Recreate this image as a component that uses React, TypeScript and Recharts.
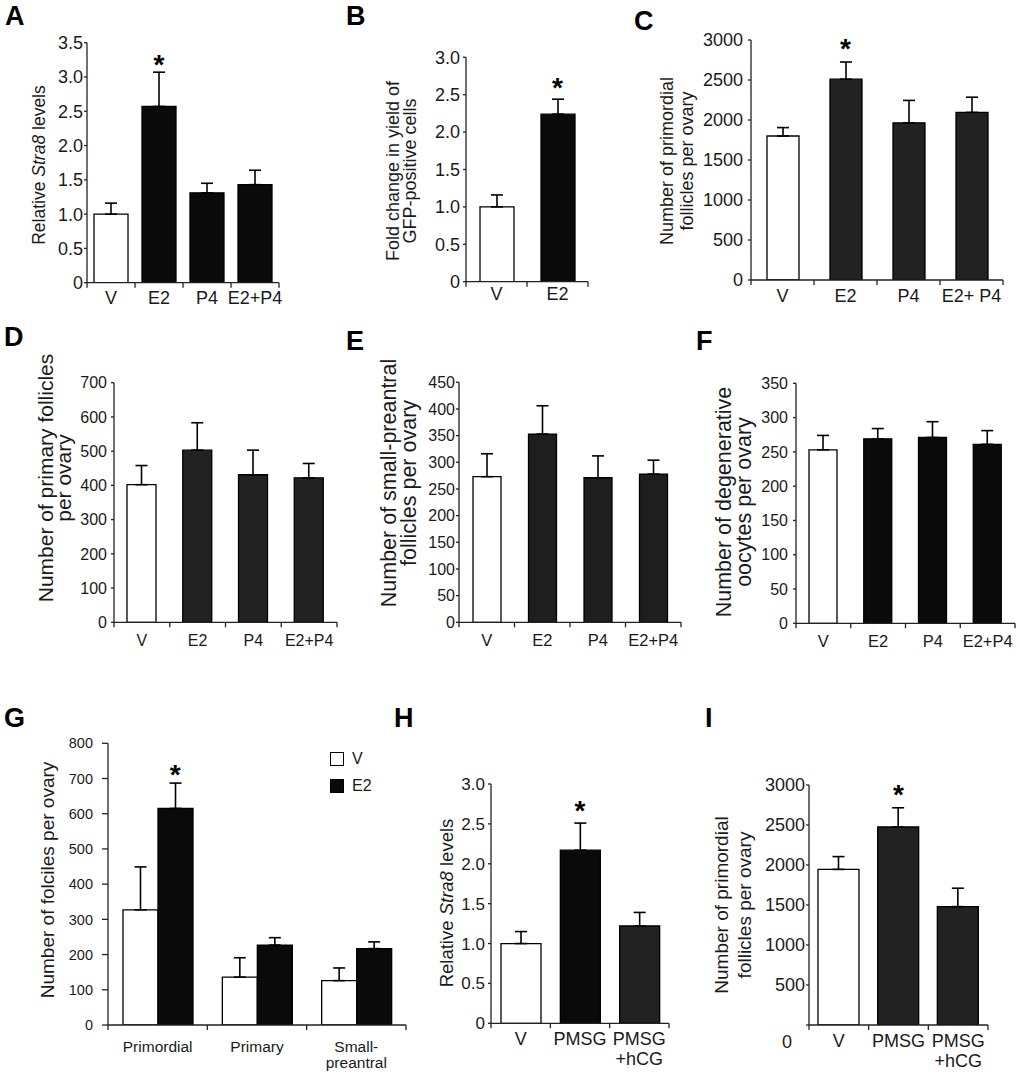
import React from "react";
import { Bar, BarChart, Cell, ErrorBar, Legend, ReferenceDot, XAxis, YAxis } from "recharts";

const FONT = '"Liberation Sans", Arial, Helvetica, sans-serif';
const INK = "#1a1a1a";
const AX = "#222";
const WHITE = "#ffffff";
const BLACK = "#0a0a0a";
const DARK = "#222222";

// A: Stra8 levels
const aCats = ["V", "E2", "P4", "E2+P4"];
const aMean = [1.0, 2.57, 1.31, 1.43];
const aSem = [0.16, 0.5, 0.14, 0.21];
const aTicks = [0, 0.5, 1, 1.5, 2, 2.5, 3, 3.5];

// B: GFP-positive yield
const bCats = ["V", "E2"];
const bMean = [1.0, 2.24];
const bSem = [0.16, 0.2];
const bTicks = [0, 0.5, 1, 1.5, 2, 2.5, 3];

// C: primordial follicles
const cCats = ["V", "E2", "P4", "E2+ P4"];
const cMean = [1800, 2510, 1965, 2095];
const cSem = [105, 215, 280, 190];
const cTicks = [0, 500, 1000, 1500, 2000, 2500, 3000];

// D: primary follicles
const dCats = ["V", "E2", "P4", "E2+P4"];
const dMean = [402, 503, 431, 422];
const dSem = [56, 80, 72, 42];
const dTicks = [0, 100, 200, 300, 400, 500, 600, 700];

// E: small-preantral follicles
const eCats = ["V", "E2", "P4", "E2+P4"];
const eMean = [273, 353, 271, 278];
const eSem = [43, 53, 41, 26];
const eTicks = [0, 50, 100, 150, 200, 250, 300, 350, 400, 450];

// F: degenerative oocytes
const fCats = ["V", "E2", "P4", "E2+P4"];
const fMean = [253, 269, 271, 261];
const fSem = [21, 15, 23, 20];
const fTicks = [0, 50, 100, 150, 200, 250, 300, 350];

// G: follicles by stage, V vs E2
const gCats = ["Primordial", "Primary", "Small-\npreantral"];
const gV = [327, 136, 126];
const gVSem = [122, 55, 36];
const gE2 = [615, 227, 217];
const gE2Sem = [72, 21, 19];
const gTicks = [0, 100, 200, 300, 400, 500, 600, 700, 800];
const gOrder = ["V", "E2"];

// H: Stra8 levels, gonadotropins
const hCats = ["V", "PMSG", "PMSG\n+hCG"];
const hMean = [1.0, 2.17, 1.22];
const hSem = [0.15, 0.34, 0.17];
const hTicks = [0, 0.5, 1, 1.5, 2, 2.5, 3];

// I: primordial follicles, gonadotropins
const iCats = ["V", "PMSG", "PMSG\n+hCG"];
const iMean = [1945, 2475, 1480];
const iSem = [160, 240, 230];
const iTicks = [0, 500, 1000, 1500, 2000, 2500, 3000];

const dec = (v: number) => (v === 0 ? "0" : v.toFixed(1));
const int = (v: number) => String(v);

const Y_W = 60;
const X_H = 60;

type Series = { name: string; mean: number[]; sem: number[]; fills: string[] };
type Cfg = {
  axisX: number;
  yTop: number;
  yZero: number;
  xEnd: number;
  cats: string[];
  series: Series[];
  ticks: number[];
  fmt: (v: number) => string;
  tickFont: number;
  yTickSize: number;
  yTickMargin: number;
  catFont: number;
  catOffset: number;
  lineGap: number;
  barSize: number;
  stars: { cat: string; s: number }[];
  starGap: number;
  shiftZero?: boolean;
  legend?: boolean;
};

const panels: Cfg[] = [
  {
    axisX: 87, yTop: 42.7, yZero: 282.7, xEnd: 279, cats: aCats,
    series: [{ name: "A", mean: aMean, sem: aSem, fills: [WHITE, BLACK, BLACK, BLACK] }],
    ticks: aTicks, fmt: dec, tickFont: 18, yTickSize: 3, yTickMargin: 1,
    catFont: 18, catOffset: 21, lineGap: 18, barSize: 34, stars: [{ cat: "E2", s: 0 }], starGap: 13,
  },
  {
    axisX: 466, yTop: 57.3, yZero: 281.7, xEnd: 588, cats: bCats,
    series: [{ name: "B", mean: bMean, sem: bSem, fills: [WHITE, BLACK] }],
    ticks: bTicks, fmt: dec, tickFont: 18, yTickSize: 3, yTickMargin: 3,
    catFont: 18, catOffset: 18.5, lineGap: 18, barSize: 34, stars: [{ cat: "E2", s: 0 }], starGap: 17,
  },
  {
    axisX: 751, yTop: 40, yZero: 280, xEnd: 1003, cats: cCats,
    series: [{ name: "C", mean: cMean, sem: cSem, fills: [WHITE, DARK, DARK, DARK] }],
    ticks: cTicks, fmt: int, tickFont: 18, yTickSize: 3, yTickMargin: 5,
    catFont: 18, catOffset: 21.5, lineGap: 18, barSize: 32, stars: [{ cat: "E2", s: 0 }], starGap: 19,
  },
  {
    axisX: 114, yTop: 382.7, yZero: 622.3, xEnd: 337, cats: dCats,
    series: [{ name: "D", mean: dMean, sem: dSem, fills: [WHITE, DARK, DARK, DARK] }],
    ticks: dTicks, fmt: int, tickFont: 16, yTickSize: 3, yTickMargin: 4,
    catFont: 16, catOffset: 24, lineGap: 18, barSize: 29, stars: [], starGap: 0,
  },
  {
    axisX: 459, yTop: 382.3, yZero: 622.3, xEnd: 681, cats: eCats,
    series: [{ name: "E", mean: eMean, sem: eSem, fills: [WHITE, "#1e1e1e", "#1e1e1e", "#1e1e1e"] }],
    ticks: eTicks, fmt: int, tickFont: 16, yTickSize: 3, yTickMargin: 1,
    catFont: 16.5, catOffset: 24, lineGap: 18, barSize: 28, stars: [], starGap: 0,
  },
  {
    axisX: 796, yTop: 383.3, yZero: 623.3, xEnd: 1015, cats: fCats,
    series: [{ name: "F", mean: fMean, sem: fSem, fills: [WHITE, BLACK, BLACK, BLACK] }],
    ticks: fTicks, fmt: int, tickFont: 16, yTickSize: 3, yTickMargin: 5,
    catFont: 16.5, catOffset: 23.5, lineGap: 18, barSize: 28, stars: [], starGap: 0,
  },
  {
    axisX: 108, yTop: 743.3, yZero: 1025, xEnd: 406, cats: gCats,
    series: [
      { name: "V", mean: gV, sem: gVSem, fills: [WHITE, WHITE, WHITE] },
      { name: "E2", mean: gE2, sem: gE2Sem, fills: [BLACK, BLACK, BLACK] },
    ],
    ticks: gTicks, fmt: int, tickFont: 14.5, yTickSize: 6, yTickMargin: 9,
    catFont: 15.5, catOffset: 26.5, lineGap: 16.5, barSize: 35, stars: [{ cat: "Primordial", s: 1 }], starGap: 14,
    legend: true,
  },
  {
    axisX: 491, yTop: 784, yZero: 1023.3, xEnd: 669, cats: hCats,
    series: [{ name: "H", mean: hMean, sem: hSem, fills: [WHITE, BLACK, DARK] }],
    ticks: hTicks, fmt: dec, tickFont: 17, yTickSize: 3, yTickMargin: 3,
    catFont: 18, catOffset: 21.7, lineGap: 20, barSize: 40, stars: [{ cat: "PMSG", s: 0 }], starGap: 18,
  },
  {
    axisX: 809, yTop: 785, yZero: 1025, xEnd: 988, cats: iCats,
    series: [{ name: "I", mean: iMean, sem: iSem, fills: [WHITE, DARK, DARK] }],
    ticks: iTicks, fmt: int, tickFont: 18, yTickSize: 3, yTickMargin: 1,
    catFont: 18, catOffset: 22, lineGap: 20, barSize: 41, stars: [{ cat: "PMSG", s: 0 }], starGap: 19,
    shiftZero: true,
  },
];

// category label plus the tick marks at the category boundaries
const CatTick = (props: any) => {
  const { x, y, payload, index, fontSize, offset, lineGap, band, last } = props;
  const lines = String(payload.value).split("\n");
  return (
    <g>
      <line x1={x - band / 2} x2={x - band / 2} y1={y} y2={y + 5} stroke={AX} strokeWidth={1.3} />
      {index === last && (
        <line x1={x + band / 2} x2={x + band / 2} y1={y} y2={y + 5} stroke={AX} strokeWidth={1.3} />
      )}
      <text textAnchor="middle" fontSize={fontSize} fontFamily={FONT} fill={INK}>
        {lines.map((l, i) => (
          <tspan key={i} x={x} y={y + offset + i * lineGap}>
            {l}
          </tspan>
        ))}
      </text>
    </g>
  );
};

const YTick = (props: any) => {
  const { x, y, payload, fontSize, fmt, shiftZero } = props;
  const s = shiftZero && payload.value === 0;
  return (
    <text
      x={x + (s ? -13 : 0)}
      y={y + (s ? 17 : 0)}
      dy="0.355em"
      textAnchor="end"
      fontSize={fontSize}
      fontFamily={FONT}
      fill={INK}
    >
      {fmt(payload.value)}
    </text>
  );
};

const GLegend = (props: any) => {
  const fills: Record<string, string> = { V: WHITE, E2: BLACK };
  const items = [...(props.payload || [])].sort(
    (a: any, b: any) => gOrder.indexOf(a.value) - gOrder.indexOf(b.value),
  );
  return (
    <div style={{ fontFamily: FONT, fontSize: 16, color: INK }}>
      {items.map((e: any) => (
        <div key={e.value} style={{ display: "flex", alignItems: "center", height: 27 }}>
          <span
            style={{
              display: "inline-block",
              boxSizing: "border-box",
              width: 14,
              height: 14,
              background: fills[e.value] ?? e.color,
              border: "1.3px solid #000",
              marginRight: 8,
            }}
          />
          {e.value}
        </div>
      ))}
    </div>
  );
};

function Panel({ cfg }: { cfg: Cfg }) {
  const left = cfg.axisX - Y_W;
  const top = Math.floor(cfg.yTop - 14);
  const width = Math.ceil(cfg.xEnd - left + 14);
  const height = Math.ceil(cfg.yZero - top + X_H + 10);
  const margin = {
    top: cfg.yTop - top,
    right: width - (cfg.xEnd - left),
    bottom: height - (cfg.yZero - top) - X_H,
    left: 0,
  };
  const rows = cfg.cats.map((name, i) => {
    const r: any = { name };
    cfg.series.forEach((s, k) => {
      r[`m${k}`] = s.mean[i];
      r[`e${k}`] = [0, s.sem[i]];
    });
    return r;
  });
  const n = cfg.cats.length;
  const band = (cfg.xEnd - cfg.axisX) / n;
  const max = cfg.ticks[cfg.ticks.length - 1];

  return (
    <div style={{ position: "absolute", left, top }}>
      <BarChart width={width} height={height} data={rows} margin={margin} barGap={0}>
        <XAxis
          dataKey="name"
          type="category"
          height={X_H}
          axisLine={{ stroke: AX, strokeWidth: 1.3 }}
          tickLine={false}
          tickSize={0}
          tickMargin={0}
          interval={0}
          tick={
            <CatTick
              fontSize={cfg.catFont}
              offset={cfg.catOffset}
              lineGap={cfg.lineGap}
              band={band}
              last={n - 1}
            />
          }
        />
        <YAxis
          type="number"
          width={Y_W}
          domain={[0, max]}
          ticks={cfg.ticks}
          interval={0}
          allowDataOverflow
          tickSize={cfg.yTickSize}
          tickMargin={cfg.yTickMargin}
          axisLine={{ stroke: AX, strokeWidth: 1.3 }}
          tickLine={{ stroke: AX, strokeWidth: 1.3 }}
          tick={<YTick fontSize={cfg.tickFont} fmt={cfg.fmt} shiftZero={cfg.shiftZero} />}
        />
        {cfg.series.map((s, k) => (
          <Bar
            key={s.name}
            dataKey={`m${k}`}
            name={s.name}
            barSize={cfg.barSize}
            fill={s.fills[s.fills.length - 1]}
            stroke="#000"
            strokeWidth={1.3}
            isAnimationActive={false}
          >
            {rows.map((_, i) => (
              <Cell key={i} fill={s.fills[i]} />
            ))}
            <ErrorBar
              dataKey={`e${k}`}
              direction="y"
              width={6}
              stroke="#000"
              strokeWidth={1.6}
              isAnimationActive={false}
            />
          </Bar>
        ))}
        {cfg.stars.map((st) => {
          const i = cfg.cats.indexOf(st.cat);
          const s = cfg.series[st.s];
          const shift = cfg.series.length > 1 ? (st.s === 1 ? cfg.barSize / 2 : -cfg.barSize / 2) : 0;
          return (
            <ReferenceDot
              key={st.cat}
              x={st.cat}
              y={s.mean[i] + s.sem[i]}
              r={0}
              ifOverflow="visible"
              shape={(p: any) => (
                <text
                  x={p.cx + shift}
                  y={p.cy - cfg.starGap + 15}
                  textAnchor="middle"
                  fontSize={28}
                  fontWeight="bold"
                  fontFamily={FONT}
                  fill="#000"
                >
                  *
                </text>
              )}
            />
          );
        })}
        {cfg.legend && (
          <Legend
            layout="vertical"
            align="center"
            verticalAlign="middle"
            content={<GLegend />}
            wrapperStyle={{ left: 330 - left, top: 745.5 - top, width: 80 }}
          />
        )}
      </BarChart>
    </div>
  );
}

type Lab = { x: number; y: number; size: number; lines: React.ReactNode[] };

const stra8 = <>{"Relative "}<tspan fontStyle="italic">Stra8</tspan>{" levels"}</>;

const yLabels: Lab[] = [
  { x: 45, y: 165, size: 17.5, lines: [stra8] },
  { x: 399, y: 171, size: 18, lines: ["Fold change in yield of", "GFP-positive cells"] },
  { x: 673, y: 161, size: 18, lines: ["Number of primordial", "follicles per ovary"] },
  { x: 53, y: 478, size: 21, lines: ["Number of primary follicles", "per ovary"] },
  { x: 396, y: 483, size: 21.5, lines: ["Number of small-preantral", "follicles per ovary"] },
  { x: 731, y: 502, size: 21.5, lines: ["Number of degenerative", "oocytes per ovary"] },
  { x: 54, y: 880, size: 19, lines: ["Number of folciles per ovary"] },
  { x: 453, y: 903, size: 18.5, lines: [stra8] },
  { x: 728, y: 905, size: 19, lines: ["Number of primordial", "follicles per ovary"] },
];
const yLabelGaps = [0, 17, 19.5, 17.5, 20, 20, 0, 0, 23];

const letters = [
  { t: "A", x: 5, y: 25 },
  { t: "B", x: 346, y: 25 },
  { t: "C", x: 634, y: 30 },
  { t: "D", x: 4, y: 346 },
  { t: "E", x: 346, y: 350 },
  { t: "F", x: 696, y: 350 },
  { t: "G", x: 4, y: 727 },
  { t: "H", x: 394, y: 727 },
  { t: "I", x: 705, y: 727 },
];

export default function App() {
  return (
    <div
      style={{
        position: "absolute",
        left: 0,
        top: 0,
        width: 1020,
        height: 1074,
        overflow: "hidden",
        background: "#fff",
        fontFamily: FONT,
      }}
    >
      {panels.map((p, i) => (
        <Panel key={i} cfg={p} />
      ))}
      <svg
        width={1020}
        height={1074}
        style={{ position: "absolute", left: 0, top: 0, pointerEvents: "none" }}
      >
        {letters.map((l) => (
          <text key={l.t} x={l.x} y={l.y} fontSize={27} fontWeight="bold" fontFamily={FONT} fill="#000">
            {l.t}
          </text>
        ))}
        {yLabels.map((lab, i) =>
          lab.lines.map((line, k) => {
            const x = lab.x + k * yLabelGaps[i];
            return (
              <text
                key={`${i}-${k}`}
                x={x}
                y={lab.y}
                transform={`rotate(-90 ${x} ${lab.y})`}
                textAnchor="middle"
                fontSize={lab.size}
                fontFamily={FONT}
                fill={INK}
              >
                {line}
              </text>
            );
          }),
        )}
      </svg>
    </div>
  );
}
